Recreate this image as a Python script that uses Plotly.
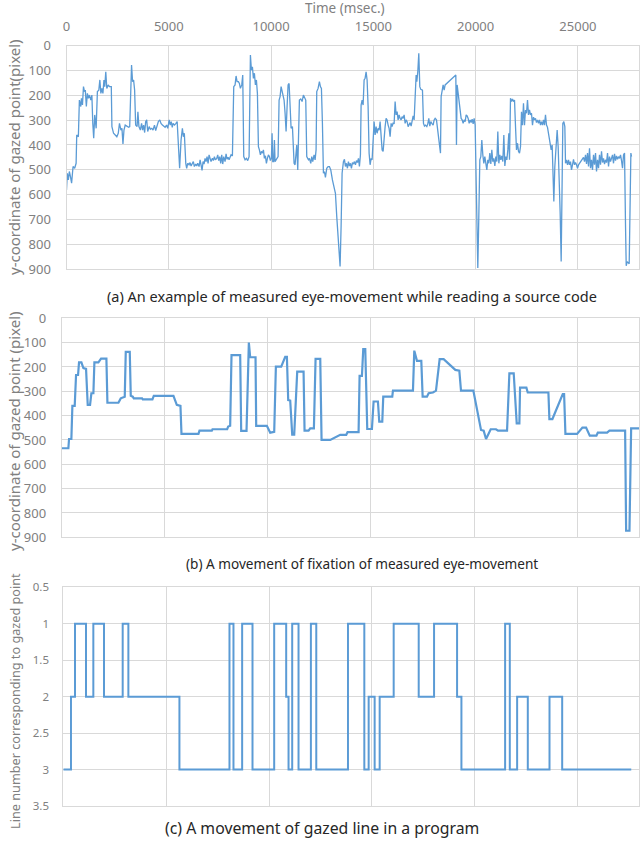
import plotly.graph_objects as go

# (a) raw gaze samples: time (ms) and y-coordinate (pixel)
A_TIME = [
    0, 40, 90, 140, 190, 250, 320, 400, 470, 500, 580, 630, 700, 730, 780, 830, 880, 920, 970, 1020,
    1070, 1120, 1190, 1240, 1285, 1330, 1380, 1450, 1510, 1580, 1630, 1680, 1730, 1780, 1830, 1870,
    1920, 1970, 2040, 2100, 2190, 2220, 2300, 2380, 2460, 2530, 2590, 2660, 2710, 2760, 2810, 2870,
    2950, 3040, 3090, 3130, 3180, 3230, 3280, 3330, 3380, 3450, 3490, 3540, 3610, 3670, 3720, 3770,
    3820, 3870, 3920, 3970, 4040, 4100, 4170, 4230, 4300, 4360, 4430, 4490, 4560, 4620, 4690, 4760,
    4820, 4890, 4950, 5020, 5070, 5120, 5170, 5210, 5280, 5350, 5410,
    5470, 5530, 5600, 5665, 5715, 5760, 5830, 5875, 5925, 5990, 6040, 6090, 6155, 6200, 6250, 6316,
    6365, 6415, 6480, 6530, 6577, 6626, 6675, 6724, 6773, 6822, 6871, 6920, 6969, 7018, 7066, 7132,
    7181, 7230, 7278, 7344, 7392, 7441, 7490, 7539, 7588, 7637, 7686, 7751, 7800, 7849, 7898, 7947,
    7996, 8044, 8110, 8175, 8240, 8289, 8338, 8403, 8452, 8501, 8566, 8615, 8664, 8729, 8794, 8859,
    8925, 8990, 9039, 9088, 9137, 9185, 9234, 9283, 9332, 9381, 9430, 9479, 9528, 9577, 9626, 9674,
    9723, 9772, 9821, 9870, 9919, 9968, 10017, 10050, 10082, 10131, 10163, 10196, 10245, 10294, 10343,
    10392, 10441, 10490, 10539, 10587, 10636, 10685, 10734, 10783, 10832, 10881, 10930, 10979, 11044,
    11125, 11173, 11255, 11304, 11385, 11451, 11516, 11581, 11646, 11695, 11744, 11826, 11874, 11940,
    11989, 12037, 12103, 12152, 12200, 12233, 12298, 12363, 12412, 12461, 12510, 12559, 12608, 12657,
    12722, 12787, 12852, 12918, 12999, 13081, 13146, 13211, 13293, 13374, 13423, 13472, 13537, 13586,
    13635, 13684, 13733, 13781, 13830, 13879, 13928, 13977, 14026, 14075, 14124, 14173, 14222, 14271,
    14319, 14368, 14401, 14450, 14499, 14548, 14597, 14645, 14694, 14743, 14792, 14841, 14890, 14939,
    15037, 15086, 15135, 15183, 15232, 15281, 15330, 15379, 15428, 15477, 15526, 15575, 15623, 15672,
    15721, 15770, 15819, 15868, 15917, 15966, 16015, 16064, 16112, 16161, 16210, 16259, 16308, 16357,
    16406, 16455, 16504, 16553, 16601, 16650, 16699, 16748,
    16798, 16846, 16895, 16944, 16993, 17042, 17091, 17124, 17172, 17221, 17270, 17319, 17401, 17450,
    17498, 17547, 17613, 17661, 17710, 17759, 17808, 17857, 17922, 17971, 18020, 18085, 18134, 18183,
    18232, 18281, 18313, 18362, 18411, 18460, 18509, 19031, 19063, 19096, 19145, 19194, 19243, 19291,
    19340, 19389, 19438, 19487, 19536, 19585, 19634, 19683, 19732, 19780, 19829, 19878, 19927, 19976,
    20025, 20074, 20106, 20155, 20204, 20253, 20302, 20351, 20400, 20449, 20498, 20547, 20595, 20644,
    20693, 20742, 20791, 20840, 20889, 20938, 20987, 21036, 21084, 21133, 21182, 21231, 21280, 21329,
    21378, 21427, 21476, 21525, 21573, 21622, 21655, 21704, 21753, 21802, 21851, 21900, 21949, 21997,
    22046, 22095, 22144, 22193,
    22241, 22290, 22339, 22388, 22437, 22486, 22535, 22584, 22632, 22681, 22730, 22779, 22828, 22877,
    22926, 22975, 23024, 23073, 23121, 23170, 23219, 23268, 23317, 23366, 23415, 23464, 23513, 23578,
    23643, 23692, 23741, 23790, 23822, 23871, 23936, 23985, 24034, 24083, 24132, 24181, 24230, 24262,
    24311, 24360, 24393, 24442, 24491, 24540, 24588, 24637, 24686, 24735, 24784, 24833, 24882, 24931,
    24980, 25029, 25077, 25126, 25175, 25224, 25273, 25322, 25371, 25420, 25469, 25518, 25566, 25615,
    25664, 25713, 25762, 25811, 25860, 25909, 25958, 26007, 26055, 26104, 26153, 26202, 26251, 26300,
    26349, 26398, 26447, 26496, 26544, 26593, 26642, 26691, 26740, 26789, 26838, 26887, 26936, 26985,
    27033, 27082, 27131, 27180, 27229, 27278, 27327, 27360, 27408, 27457, 27506, 27588, 27620,
]
A_Y = [
    581, 514, 541, 507, 527, 554, 487, 494, 474, 360, 367, 219, 245, 212, 239, 165, 185, 179, 245, 192,
    212, 199, 219, 199, 313, 373, 279, 333, 185, 179, 138, 192, 172, 192, 138, 165,
    105, 172, 158, 165, 165, 326, 353, 360, 367, 353, 313, 340, 333, 396, 340, 320,
    326, 329, 326, 165, 78, 145, 138, 179, 320, 326, 266, 326, 340, 313, 340, 320,
    350, 306, 299, 346, 326, 337, 333, 340, 320, 342, 320, 306, 299, 313, 320, 324,
    329, 320, 333, 299, 320, 306, 329, 313, 320, 313, 306,
    400, 494, 380, 333, 367, 353, 474, 494, 474, 480, 471, 485, 474, 467, 487, 477,
    485, 474, 487, 460, 480, 503, 467, 477, 454, 467, 447, 474, 440, 460, 467, 454,
    463, 447, 460, 454, 440, 463, 447, 474, 440, 477, 447, 467, 436, 458, 450, 460,
    447, 440, 444, 165, 158, 122, 145, 145, 152, 172, 158, 118, 447, 460, 454, 463,
    447, 38, 98, 85, 132, 111, 158, 138, 192, 407, 420, 440, 426, 433, 420, 454,
    444, 474, 454, 440, 447, 463, 454, 353, 467, 467, 380, 467, 460, 454, 447,
    219, 205, 165, 185, 199, 219, 272, 346, 245, 158, 152, 252, 333, 326,
    474, 480, 400, 501, 219, 215, 225, 199, 215, 219, 447, 460, 454, 474,
    447, 467, 440, 460, 420, 185, 172, 145, 165, 172, 313, 514, 507, 531,
    494, 487, 487, 501, 541, 575, 595, 689, 783, 890, 729, 514, 467, 458,
    487, 474, 494, 467, 485, 474, 494, 471, 477, 467, 480, 463, 471, 454,
    487, 440, 239, 219, 239, 138, 131, 105, 138, 245, 433, 480, 454, 460,
    306, 360, 326, 353, 333, 340, 306, 380, 420, 426, 360, 326, 293, 299,
    320, 333, 367, 313, 326, 310, 315, 225, 279, 266, 299, 279, 293, 299,
    286, 293, 279, 313, 299, 306, 326, 313,
    310, 324, 299, 283, 299, 185, 118, 145, 105, 31, 165, 176, 179, 313,
    324, 320, 326, 315, 293, 324, 306, 313, 320, 299, 293, 299, 340, 373,
    400, 433, 205, 172, 158, 179, 158, 118, 400, 158, 199, 219, 272, 293,
    299, 313, 299, 306, 279, 283, 293, 313, 299, 310, 296, 315, 293, 320,
    541, 783, 896, 689, 460, 447, 380, 440, 474, 447, 480, 501, 460, 474,
    433, 477, 420, 467, 454, 485, 447, 467, 346, 474, 440, 460, 444, 467,
    360, 485, 447, 460, 420, 353, 460, 212, 225, 215, 225, 219, 326, 420,
    393, 426, 433, 407,
    266, 320, 232, 320, 259, 272, 219, 279, 259, 279, 272, 320, 288, 299,
    293, 310, 299, 313, 299, 320, 306, 320, 299, 320, 279, 320, 329, 367,
    400, 420, 400, 514, 628, 487, 380, 340, 407, 514, 675, 870, 528, 313,
    306, 326, 474, 460, 480, 460, 480, 467, 501, 474, 458, 480, 471, 480,
    494, 480, 474, 467, 460, 454, 450, 467, 440, 477, 433, 487, 413, 494,
    460, 501, 440, 480, 433, 507, 460, 494, 440, 480, 426, 471, 454, 477,
    460, 471, 433, 487, 447, 467, 454, 440, 474, 436, 463, 444, 458, 447,
    454, 440, 463, 494, 440, 433, 729, 887, 870, 874, 879, 433, 447,
]

# (b) fixation positions: time (ms) and y-coordinate (pixel)
B_TIME = [
    0, 324, 356, 469, 518, 631, 696, 793, 841, 955, 1052, 1181, 1262, 1375, 1440, 1537, 1586, 1780,
    1909, 2168, 2217, 2751, 2864, 3058, 3107, 3301, 3350, 3447, 3495, 3899, 3932, 4401, 4466, 5420,
    5582, 5760, 5809, 6634, 6683, 7281, 7314, 8025, 8074, 8171, 8236, 8657, 8705, 8964, 9077, 9142,
    9401, 9433, 9951, 9999, 10113, 10307, 10388, 10647, 10841, 10922, 10986, 11083, 11180, 11277,
    11423, 11731, 11779, 11973, 12054, 12232, 12313, 12540, 12604, 13024, 13509, 13800, 13865, 14399,
    14448, 14561, 14626, 14723, 14820, 15046, 15127, 15337, 15402, 15548, 15596, 16033, 16066, 17036,
    17101, 17231, 17441, 17506, 17716, 17797, 18007, 18153, 18331, 18525, 19091, 19285, 19366, 19965,
    20337, 20466, 20580, 20710, 20807, 21065, 21162, 21600, 21713, 21923, 22069, 22198, 22231, 22538,
    22603, 23606, 23654, 23800, 24302, 24367, 24431, 24997, 25256, 25434, 25612, 25936, 26001, 26454,
    26567, 27327, 27376, 27538, 27619, 28000,
]
B_Y = [
    534, 534, 496, 496, 360, 360, 233, 233, 181, 181, 205, 208, 356, 356, 308, 308, 181, 181,
    166, 166, 347, 347, 329, 322, 138, 138, 318, 322, 329, 329, 333, 333, 319, 319,
    356, 360, 475, 475, 462, 462, 456, 456, 445, 442, 151, 151, 463, 463, 100, 160,
    160, 442, 442, 452, 470, 467, 199, 199, 158, 158, 336, 338, 478, 478,
    219, 219, 462, 462, 452, 452, 167, 167, 500, 500, 479, 479, 468, 468,
    237, 237, 127, 127, 455, 455, 342, 342, 425, 425, 322, 322, 297, 297,
    133, 175, 175, 322, 322, 308, 305, 297, 168, 168, 212, 215, 297, 297,
    459, 462, 496, 473, 456, 456, 462, 462, 226, 226, 432, 432, 285, 285,
    305, 305, 414, 414, 311, 311, 475, 475, 449, 449, 482, 482, 470, 470,
    462, 462, 873, 873, 452, 452,
]

# (c) gazed program line: time (ms) at which each line starts being gazed
C_TIME = [
    0, 373, 568, 1103, 1460, 1979, 2887, 3163, 5645, 8078, 8272, 8694, 9197, 10251, 10835, 10949,
    11127, 11435, 12035, 12297, 13838, 14633, 14844, 15135, 15379, 16060, 17277, 18023, 19142, 19353,
    21477, 21705, 22061, 22580, 23635, 24251, 27609,
]
C_LINE = [
    3, 2, 1, 2, 1, 2, 1, 2, 3, 1, 3, 1, 3, 1, 2, 3,
    1, 3, 1, 3, 1, 3, 2, 3, 2, 1, 2, 1, 2, 3,
    1, 3, 2, 3, 2, 3, 3,
]

TIME_TICKS = [0, 5000, 10000, 15000, 20000, 25000]
TIME_TICK_TEXT = ["0", "5000", "10000", "15000", "20000", "25000"]
PIXEL_TICKS = [0, 100, 200, 300, 400, 500, 600, 700, 800, 900]
LINE_TICKS = [0.5, 1, 1.5, 2, 2.5, 3, 3.5]
LINE_TICK_TEXT = ["0.5", "1", "1.5", "2", "2.5", "3", "3.5"]

W, H = 641, 844
BLUE = "#5b9bd5"
GRID = "#d9d9d9"
TICK_GRAY = "#808080"
FONT = "Noto Sans"


def px_x(p):
    return p / W


def px_y(p):
    return 1 - p / H


fig = go.Figure()
fig.add_trace(go.Scatter(x=A_TIME, y=A_Y, mode="lines", line=dict(color=BLUE, width=1.3),
                         xaxis="x", yaxis="y", showlegend=False))
fig.add_trace(go.Scatter(x=B_TIME, y=B_Y, mode="lines", line=dict(color=BLUE, width=2.2),
                         xaxis="x2", yaxis="y2", showlegend=False))
fig.add_trace(go.Scatter(x=C_TIME, y=C_LINE, mode="lines", line=dict(color=BLUE, width=2, shape="hv"),
                         xaxis="x3", yaxis="y3", showlegend=False))

common_x = dict(range=[0, 28000], tickvals=TIME_TICKS, ticktext=TIME_TICK_TEXT, showgrid=True,
                gridcolor=GRID, gridwidth=1, showline=True, linecolor=GRID, linewidth=1, mirror=True,
                zeroline=False, ticks="", automargin=False,
                tickfont=dict(family=FONT, size=13, color=TICK_GRAY))
common_y = dict(showgrid=True, gridcolor=GRID, gridwidth=1, showline=True, linecolor=GRID, linewidth=1,
                mirror=True, zeroline=False, ticks="", ticklabelstandoff=12, automargin=False,
                tickfont=dict(family=FONT, size=13, color=TICK_GRAY))

fig.update_layout(
    width=W, height=H,
    margin=dict(l=0, r=0, t=0, b=0, autoexpand=False),
    paper_bgcolor="white", plot_bgcolor="white",
    font=dict(family=FONT),
    xaxis=dict(common_x, domain=[px_x(66.5), px_x(639.3)], anchor="y", side="top",
               showticklabels=True, ticklabelstandoff=9),
    yaxis=dict(common_y, domain=[px_y(269), px_y(45.7)], anchor="x", range=[900, 0],
               tickvals=PIXEL_TICKS),
    xaxis2=dict(common_x, domain=[px_x(61.7), px_x(639)], anchor="y2", showticklabels=False),
    yaxis2=dict(common_y, domain=[px_y(537.3), px_y(318.3)], anchor="x2", range=[900, 0],
                tickvals=PIXEL_TICKS),
    xaxis3=dict(common_x, domain=[px_x(63.3), px_x(639.3)], anchor="y3", showticklabels=False),
    yaxis3=dict(common_y, domain=[px_y(806), px_y(587.3)], anchor="x3", range=[3.5, 0.5],
                tickvals=LINE_TICKS, ticktext=LINE_TICK_TEXT, ticklabelstandoff=11,
                tickfont=dict(family=FONT, size=11.5, color=TICK_GRAY)),
)

annotations = [
    dict(text="Time (msec.)", x=px_x(345), y=px_y(8), size=13.5, color=TICK_GRAY),
    dict(text="y-coordinate of gazed point(pixel)", x=px_x(14), y=px_y(157), textangle=-90,
         size=15, color=TICK_GRAY),
    dict(text="y-coordinate of gazed point (pixel)", x=px_x(14), y=px_y(431), textangle=-90,
         size=15, color=TICK_GRAY),
    dict(text="Line number corresponding to gazed point", x=px_x(15), y=px_y(701), textangle=-90,
         size=12.7, color=TICK_GRAY),
    dict(text="(a) An example of measured eye-movement while reading a source code",
         x=px_x(352), y=px_y(296), size=14.5, color="#262626"),
    dict(text="(b) A movement of fixation of measured eye-movement",
         x=px_x(362), y=px_y(563), size=13.6, color="#262626"),
    dict(text="(c) A movement of gazed line in a program",
         x=px_x(322), y=px_y(828), size=15.8, color="#262626"),
]
for a in annotations:
    size = a.pop("size")
    color = a.pop("color")
    a.update(xref="paper", yref="paper", showarrow=False, xanchor="center", yanchor="middle",
             font=dict(family=FONT, size=size, color=color))
fig.update_layout(annotations=annotations)

fig.write_html("out.html")
